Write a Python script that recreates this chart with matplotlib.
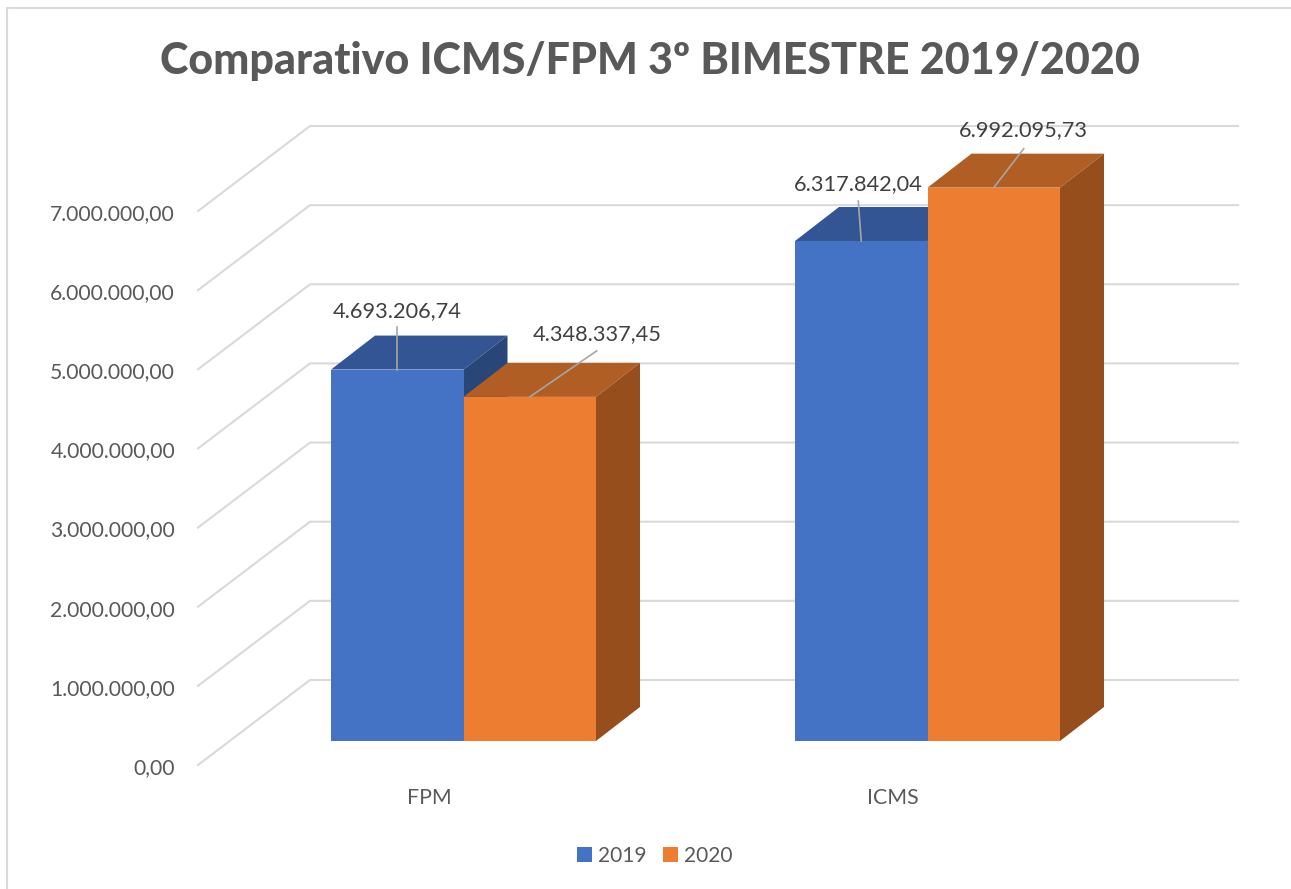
import matplotlib
matplotlib.use("Agg")
import matplotlib.pyplot as plt
from matplotlib.patches import Polygon

plt.rcParams['font.family'] = ['Lato', 'DejaVu Sans']

categorias = ["FPM", "ICMS"]
anos = ["2019", "2020"]
valores_2019 = [4693206.74, 6317842.04]
valores_2020 = [4348337.45, 6992095.73]
rotulos_2019 = ["4.693.206,74", "6.317.842,04"]
rotulos_2020 = ["4.348.337,45", "6.992.095,73"]
ticks_y = [0, 1000000, 2000000, 3000000, 4000000, 5000000, 6000000, 7000000]
rotulos_y = ["0,00", "1.000.000,00", "2.000.000,00", "3.000.000,00",
             "4.000.000,00", "5.000.000,00", "6.000.000,00", "7.000.000,00"]

AZUL = ['#4472C4', '#335593', '#294679']
LARANJA = ['#ED7D31', '#B15E24', '#964F1C']
CINZA = '#D9D9D9'
TEXTO = '#595959'
TEXTO_VALOR = '#404040'

# escala: pixels por unidade de dado
PX_X = 464.0
PX_Y = 79.14e-6
L, A = 1291, 889


def dx(px):
    return px / PX_X


def dy(px):
    return px / PX_Y


fig = plt.figure(figsize=(L / 100, A / 100), dpi=100)
ax = fig.add_axes([0, 0, 1, 1])
# categoria 0 fica no pixel 463.5, valor 0 no pixel 741
ax.set_xlim(dx(-463.5), dx(L - 463.5))
ax.set_ylim(dy(741 - A), dy(741))
ax.axis('off')

# moldura (so topo e esquerda aparecem)
ax.plot([dx(7 - 463.5)] * 2 + [dx(L - 463.5)], [dy(741 - A), dy(741 - 7.5), dy(741 - 7.5)],
        color=CINZA, lw=1.5, zorder=0)

# parede do fundo
for t in ticks_y:
    xs = [dx(198 - 463.5), dx(310 - 463.5), dx(1238 - 463.5)]
    ys = [t + dy(-24), t + dy(61), t + dy(61)]
    ax.plot(xs, ys, color=CINZA, lw=1.5, zorder=1)

for t, r in zip(ticks_y, rotulos_y):
    ax.text(dx(175 - 463.5), t + dy(-27), r, ha='right', va='center',
            fontsize=15.25, color=TEXTO)

# barras 3D
larg = dx(132.5)
prof_x = dx(44)
prof_y = dy(34)


def barra_3d(x, v, cores, rotulo=None):
    ax.bar(x, v, width=larg, align='edge', color=cores[0], zorder=5, label=rotulo)
    topo = [(x, v), (x + larg, v), (x + larg + prof_x, v + prof_y), (x + prof_x, v + prof_y)]
    lado = [(x + larg, 0), (x + larg + prof_x, prof_y), (x + larg + prof_x, v + prof_y), (x + larg, v)]
    ax.add_patch(Polygon(topo, closed=True, facecolor=cores[1], edgecolor='none', zorder=4))
    ax.add_patch(Polygon(lado, closed=True, facecolor=cores[2], edgecolor='none', zorder=4))


for i in range(len(categorias)):
    barra_3d(i - larg, valores_2019[i], AZUL, anos[0] if i == 0 else None)
    barra_3d(i, valores_2020[i], LARANJA, anos[1] if i == 0 else None)

# rotulos de dados: (dx texto, dy texto, dy fim da linha) em pixels
desloc_2019 = [(0, 58, 43), (-3, 57, 40)]
desloc_2020 = [(67, 63, 46), (30, 58, 39)]


def rotulo_valor(x, v, texto, desloc):
    ox, oy, fim = desloc
    ax.plot([x, x + dx(ox)], [v, v + dy(fim)], color='#A6A6A6', lw=1.2, zorder=6)
    ax.text(x + dx(ox), v + dy(oy), texto, ha='center', va='center',
            fontsize=15.7, color=TEXTO_VALOR, zorder=7)


for i in range(len(categorias)):
    rotulo_valor(i - larg / 2, valores_2019[i], rotulos_2019[i], desloc_2019[i])
    rotulo_valor(i + larg / 2, valores_2020[i], rotulos_2020[i], desloc_2020[i])

for i, c in enumerate(categorias):
    ax.text(i + dx(-34.5), dy(-57), c, ha='center', va='center', fontsize=15.3, color=TEXTO)

ax.text(dx(650 - 463.5), dy(741 - 61), "Comparativo ICMS/FPM 3º BIMESTRE 2019/2020",
        ha='center', va='center', fontsize=31, fontweight='black', color=TEXTO)

ax.legend(loc='center', bbox_to_anchor=(655 / L, 1 - 856 / A), ncols=2, frameon=False,
          fontsize=15, labelcolor=TEXTO, handlelength=0.7, handleheight=0.7,
          handletextpad=0.3, columnspacing=0.8)

plt.savefig('out.png', dpi=100)
